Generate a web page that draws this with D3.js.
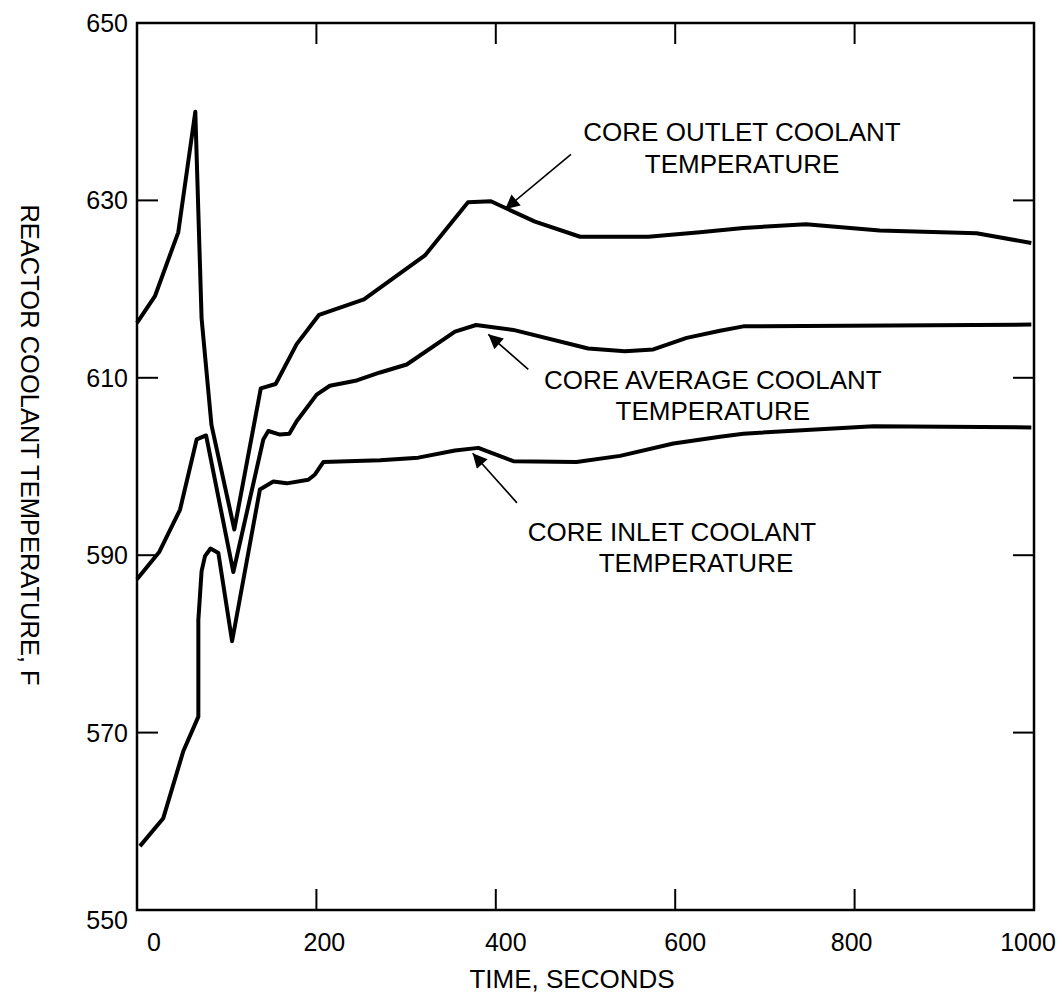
<!DOCTYPE html>
<html>
<head>
<meta charset="utf-8">
<script src="https://cdn.jsdelivr.net/npm/d3@7"></script>
<style>
  html, body { margin: 0; padding: 0; background: #fff; }
  svg { display: block; }
  text { font-family: "Liberation Sans", Arial, Helvetica, sans-serif; fill: #000; }
</style>
</head>
<body>
<svg id="chart" width="1062" height="997"></svg>
<script>
// ---- Data ----
const xTicks = [0, 200, 400, 600, 800, 1000];
const yTicks = [550, 570, 590, 610, 630, 650];

const outletTime = [0, 20, 46, 65, 72, 83, 108.5, 138, 154.6, 178, 203, 253, 321, 369, 394.6, 443.7, 494, 570, 627.6, 676, 745.8, 828, 936, 997];
const outletTemp = [616.2, 619.2, 626.4, 640.0, 616.7, 604.7, 592.9, 608.8, 609.3, 613.8, 617.1, 618.85, 623.8, 629.8, 629.9, 627.6, 625.9, 625.9, 626.4, 626.9, 627.3, 626.6, 626.3, 625.2];

const averageTime = [0, 25, 48, 66.5, 77, 107.4, 140.8, 146.4, 159.4, 169.8, 178, 200.3, 215, 245, 271, 300.7, 354.5, 378, 419.5, 503, 544, 575.6, 612.8, 650, 676, 997];
const averageTemp = [587.3, 590.4, 595.15, 603.05, 603.5, 588.1, 603.05, 604.0, 603.6, 603.7, 605.1, 608.1, 609.1, 609.7, 610.6, 611.5, 615.2, 615.95, 615.4, 613.3, 613.0, 613.2, 614.5, 615.3, 615.8, 616.0];

const inletTime = [3.3, 29.3, 51.6, 68.4, 68.4, 72, 75.8, 82, 90.7, 106, 137, 152, 167, 191, 198.4, 207.7, 271, 313.6, 354.5, 380.5, 419.5, 490, 538.5, 598, 650, 676, 821, 997];
const inletTemp = [557.2, 560.35, 567.9, 571.8, 582.7, 588.2, 589.9, 590.75, 590.25, 580.3, 597.4, 598.3, 598.1, 598.5, 599.1, 600.5, 600.7, 601.0, 601.8, 602.1, 600.6, 600.5, 601.2, 602.6, 603.35, 603.7, 604.55, 604.4];

// annotation labels: [text, time, temp] (centre x, baseline)
const labelLines = [
  ["CORE OUTLET COOLANT", 674.5, 636.7],
  ["TEMPERATURE", 674.5, 633.1],
  ["CORE AVERAGE COOLANT", 642, 608.7],
  ["TEMPERATURE", 642, 605.2],
  ["CORE INLET COOLANT", 596.4, 591.6],
  ["TEMPERATURE", 623.2, 588.1]
];
// arrows: [fromTime, fromTemp, toTime, toTemp]
const arrows = [
  [483.8, 635.2, 410.3, 629.0],
  [436.2, 610.96, 391.6, 614.9],
  [423.6, 595.9, 374.2, 601.5]
];

const xTitle = "TIME, SECONDS";
const yTitle = "REACTOR COOLANT TEMPERATURE, F";

// ---- Chart ----
const svg = d3.select("#chart");
const x = d3.scaleLinear().domain([0, 1000]).range([137, 1034]);
const y = d3.scaleLinear().domain([550, 650]).range([910, 23]);

const defs = svg.append("defs");
defs.append("marker")
  .attr("id", "arrowhead")
  .attr("viewBox", "0 0 10 10")
  .attr("refX", 10).attr("refY", 5)
  .attr("markerWidth", 11).attr("markerHeight", 9)
  .attr("markerUnits", "strokeWidth")
  .attr("orient", "auto")
  .append("path").attr("d", "M0,0 L10,5 L0,10 z").attr("fill", "#000");

// Curves
const line = d3.line().x(d => x(d[0])).y(d => y(d[1])).curve(d3.curveLinear);
const series = [
  d3.zip(outletTime, outletTemp),
  d3.zip(averageTime, averageTemp),
  d3.zip(inletTime, inletTemp)
];
svg.append("g").selectAll("path").data(series).join("path")
  .attr("d", line)
  .attr("fill", "none").attr("stroke", "#000")
  .attr("stroke-width", 4).attr("stroke-linejoin", "round").attr("stroke-linecap", "butt");

// Inner ticks
const tickLen = 21;
const innerX = xTicks.slice(1, -1), innerY = yTicks.slice(1, -1);
const tg = svg.append("g").attr("stroke", "#000").attr("stroke-width", 2);
tg.selectAll(".bt").data(innerX).join("line")
  .attr("x1", d => x(d)).attr("x2", d => x(d)).attr("y1", y(550)).attr("y2", y(550) - tickLen);
tg.selectAll(".tt").data(innerX).join("line")
  .attr("x1", d => x(d)).attr("x2", d => x(d)).attr("y1", y(650)).attr("y2", y(650) + tickLen);
tg.selectAll(".lt").data(innerY).join("line")
  .attr("y1", d => y(d)).attr("y2", d => y(d)).attr("x1", x(0)).attr("x2", x(0) + tickLen);
tg.selectAll(".rt").data(innerY).join("line")
  .attr("y1", d => y(d)).attr("y2", d => y(d)).attr("x1", x(1000)).attr("x2", x(1000) - tickLen);

// Frame
svg.append("rect")
  .attr("x", x(0)).attr("y", y(650))
  .attr("width", x(1000) - x(0)).attr("height", y(550) - y(650))
  .attr("fill", "none").attr("stroke", "#000").attr("stroke-width", 2.5);

// Tick labels (small hand-placement offsets as in the original drawing)
const xLabelShift = {0: 17, 200: 8, 400: 10, 600: 10, 800: -3, 1000: -6};
svg.append("g").selectAll("text").data(xTicks).join("text")
  .attr("x", d => x(d) + xLabelShift[d])
  .attr("y", 951)
  .attr("text-anchor", "middle")
  .attr("font-size", 25)
  .text(d => d);
svg.append("g").selectAll("text").data(yTicks).join("text")
  .attr("x", 128)
  .attr("y", d => y(d) + (d === 550 ? 10 : 0))
  .attr("dy", "0.36em")
  .attr("text-anchor", "end")
  .attr("font-size", 25)
  .text(d => d);

// Axis titles
svg.append("text")
  .attr("x", 572).attr("y", 988)
  .attr("text-anchor", "middle").attr("font-size", 26)
  .text(xTitle);
svg.append("text")
  .attr("transform", "translate(21,445) rotate(90)")
  .attr("text-anchor", "middle").attr("font-size", 25.5)
  .text(yTitle);

// Annotation labels
svg.append("g").selectAll("text").data(labelLines).join("text")
  .attr("x", d => x(d[1])).attr("y", d => y(d[2]))
  .attr("text-anchor", "middle").attr("font-size", 26)
  .text(d => d[0]);

// Arrows
svg.append("g").selectAll("line").data(arrows).join("line")
  .attr("x1", d => x(d[0])).attr("y1", d => y(d[1]))
  .attr("x2", d => x(d[2])).attr("y2", d => y(d[3]))
  .attr("stroke", "#000").attr("stroke-width", 1.6)
  .attr("marker-end", "url(#arrowhead)");
</script>
</body>
</html>
